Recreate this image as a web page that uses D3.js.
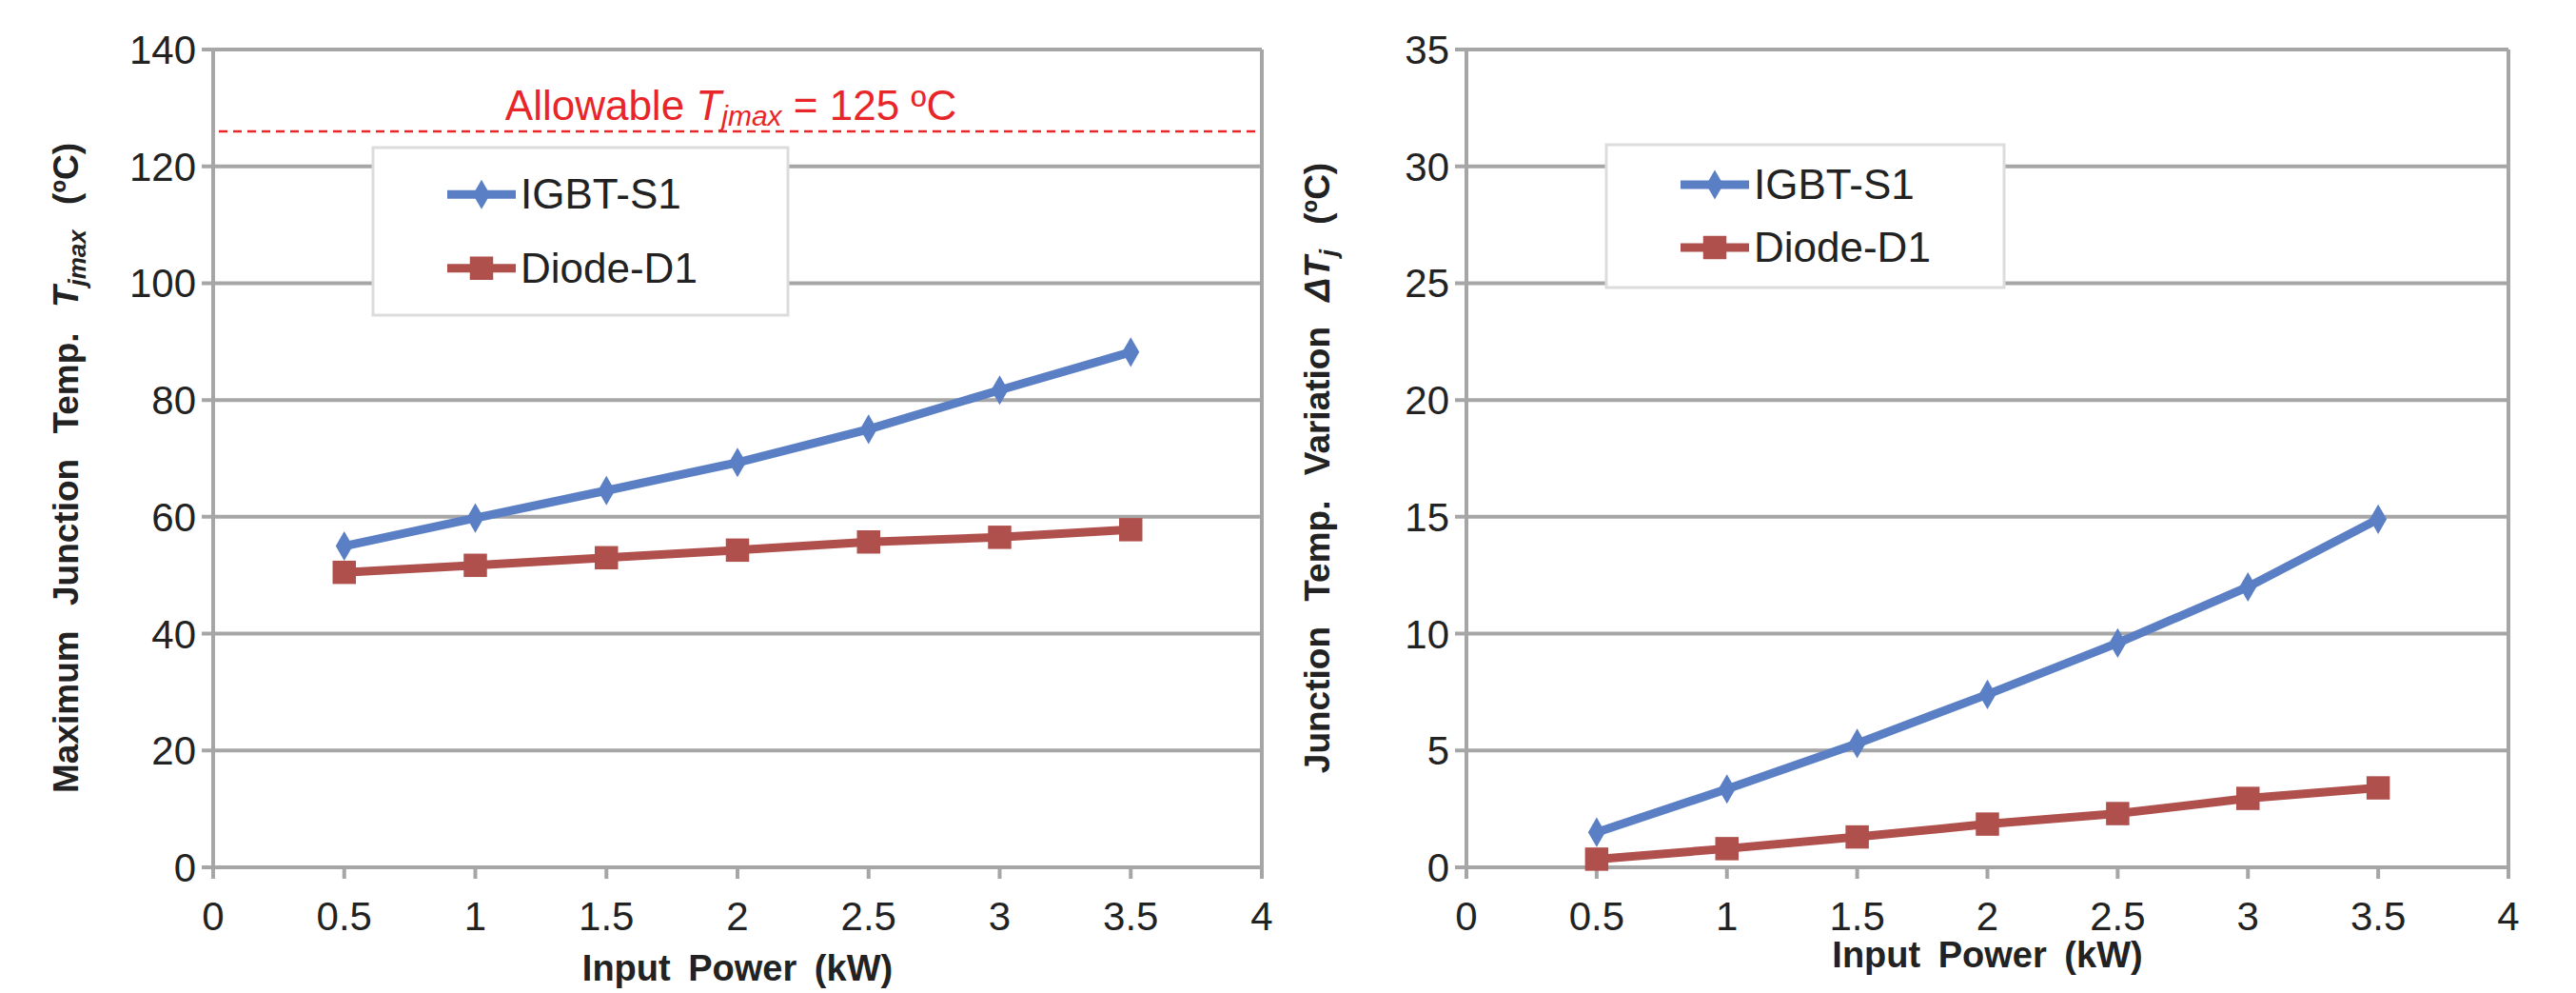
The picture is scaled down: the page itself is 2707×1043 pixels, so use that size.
<!DOCTYPE html>
<html><head><meta charset="utf-8">
<script src="https://cdn.jsdelivr.net/npm/d3@7"></script>
<style>body{margin:0;background:#fff}text{font-family:"Liberation Sans Narrow","Liberation Sans",Arial,sans-serif}</style>
</head><body>
<script>
var xs = [0.5, 1, 1.5, 2, 2.5, 3, 3.5];
var xTicks = [0, 0.5, 1, 1.5, 2, 2.5, 3, 3.5, 4];
var igbtMax = [55, 59.8, 64.5, 69.3, 75, 81.7, 88.2];
var diodeMax = [50.5, 51.7, 53, 54.3, 55.7, 56.5, 57.8];
var igbtDelta = [1.5, 3.35, 5.3, 7.4, 9.6, 12, 14.9];
var diodeDelta = [0.35, 0.8, 1.3, 1.85, 2.3, 2.95, 3.4];
var seriesNames = ['IGBT-S1', 'Diode-D1'];

var W = 2707, H = 1043;
var blue = '#5b7fc4', red = '#b0504d', grid = '#a6a6a6';

var svg = d3.select('body').append('svg').attr('width', W).attr('height', H);

function panel(o) {
	var x = d3.scaleLinear().domain([0, 4]).range([o.x0, o.x1]);
	var y = d3.scaleLinear().domain([0, o.ymax]).range([911, 52]);
	var g = svg.append('g');
	var yT = d3.range(0, o.ymax + 0.01, o.ystep);
	g.selectAll('.gl').data(yT).enter().append('line')
		.attr('x1', x(0) - 12).attr('x2', x(4)).attr('y1', y).attr('y2', y)
		.attr('stroke', grid).attr('stroke-width', 4);
	g.append('line').attr('x1', x(0)).attr('x2', x(0)).attr('y1', y(o.ymax)).attr('y2', y(0) + 12).attr('stroke', grid).attr('stroke-width', 4);
	g.append('line').attr('x1', x(4)).attr('x2', x(4)).attr('y1', y(o.ymax)).attr('y2', y(0) + 12).attr('stroke', grid).attr('stroke-width', 4);
	g.selectAll('.xt').data(xTicks).enter().append('line')
		.attr('x1', x).attr('x2', x).attr('y1', y(0)).attr('y2', y(0) + 12)
		.attr('stroke', grid).attr('stroke-width', 4);
	g.selectAll('.yl').data(yT).enter().append('text')
		.attr('x', x(0) - 18).attr('y', function(d) { return y(d) + 15; })
		.attr('text-anchor', 'end').attr('font-size', 42).attr('fill', '#222').text(function(d) { return d; });
	g.selectAll('.xl').data(xTicks).enter().append('text')
		.attr('x', x).attr('y', y(0) + 66)
		.attr('text-anchor', 'middle').attr('font-size', 42).attr('fill', '#222').text(function(d) { return d; });
	g.append('text').attr('x', (x(0) + x(4)) / 2).attr('y', o.xtY)
		.attr('text-anchor', 'middle').attr('font-size', 38).attr('font-weight', 'bold').attr('fill', '#222')
		.attr('font-family', 'Liberation Sans, Arial').attr('word-spacing', 8).text('Input Power (kW)');
	var yt = g.append('text').attr('transform', 'translate(' + o.ytX + ',' + (y(o.ymax / 2) + 10) + ') rotate(-90)')
		.attr('text-anchor', 'middle').attr('font-size', 37).attr('font-weight', 'bold').attr('fill', '#222')
		.attr('font-family', 'Liberation Sans, Arial').attr('word-spacing', 16);
	yt.append('tspan').text(o.ytitle);
	yt.append('tspan').attr('font-style', 'italic').text(o.ysym);
	if (o.ysub) yt.append('tspan').attr('font-style', 'italic').attr('font-size', 26).attr('dy', 8).text(o.ysub);
	yt.append('tspan').attr('dy', o.ysub ? -8 : 0).text(' (ºC)');

	if (o.limit) {
		g.append('line').attr('x1', x(0) + 6).attr('x2', x(4) - 4).attr('y1', y(o.limit)).attr('y2', y(o.limit))
			.attr('stroke', '#e8262a').attr('stroke-width', 2.5).attr('stroke-dasharray', '9,6');
		var lt = g.append('text').attr('x', 768).attr('y', y(o.limit) - 12).attr('text-anchor', 'middle')
			.attr('font-size', 44).attr('fill', '#e8262a');
		lt.append('tspan').text('Allowable ');
		lt.append('tspan').attr('font-style', 'italic').text('T');
		lt.append('tspan').attr('font-style', 'italic').attr('font-size', 30).attr('dy', 6).text('jmax');
		lt.append('tspan').attr('dy', -6).text(' = 125 ºC');
	}

	var data = [o.a, o.b];
	var cols = [blue, red];
	var line = d3.line().x(function(d, i) { return x(xs[i]); }).y(function(d) { return y(d); });
	data.forEach(function(s, k) {
		g.append('path').attr('d', line(s)).attr('fill', 'none').attr('stroke', cols[k]).attr('stroke-width', 9);
		g.selectAll('.m' + k).data(s).enter().append('path')
			.attr('transform', function(d, i) { return 'translate(' + x(xs[i]) + ',' + y(d) + ')'; })
			.attr('d', k === 0 ? d3.symbol(d3.symbolDiamond, 280)() : d3.symbol(d3.symbolSquare, 600)())
			.attr('fill', cols[k]);
	});

	var L = o.leg;
	g.append('rect').attr('x', L[0]).attr('y', L[1]).attr('width', L[2]).attr('height', L[3])
		.attr('fill', '#fff').attr('stroke', '#dcdcdc').attr('stroke-width', 3);
	seriesNames.forEach(function(n, k) {
		var ly = L[1] + L[3] * (k === 0 ? 0.28 : 0.72);
		g.append('line').attr('x1', L[0] + 78).attr('x2', L[0] + 150).attr('y1', ly).attr('y2', ly).attr('stroke', cols[k]).attr('stroke-width', 9);
		g.append('path').attr('transform', 'translate(' + (L[0] + 114) + ',' + ly + ')')
			.attr('d', k === 0 ? d3.symbol(d3.symbolDiamond, 280)() : d3.symbol(d3.symbolSquare, 600)()).attr('fill', cols[k]);
		g.append('text').attr('x', L[0] + 155).attr('y', ly + 15).attr('font-size', 44).attr('fill', '#222').text(n);
	});
}

panel({x0: 224, x1: 1326, ymax: 140, ystep: 20, a: igbtMax, b: diodeMax, limit: 126,
	ytitle: 'Maximum Junction Temp. ', ysym: 'T', ysub: 'jmax', ytX: 82, xtY: 1030,
	leg: [392, 155, 436, 176]});
panel({x0: 1541, x1: 2636, ymax: 35, ystep: 5, a: igbtDelta, b: diodeDelta,
	ytitle: 'Junction Temp. Variation ', ysym: 'ΔT', ysub: 'j', ytX: 1397, xtY: 1016,
	leg: [1688, 152, 418, 150]});
</script>
</body></html>
